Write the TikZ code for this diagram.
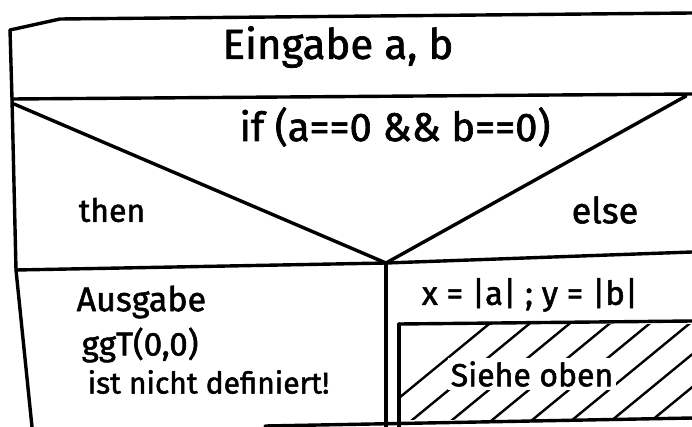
\documentclass[tikz,border=0pt]{standalone}
\usepackage{fontspec}
\setmainfont{Fira Sans}[FakeBold=1.6]
\begin{document}
\begin{tikzpicture}[x=1pt,y=-1pt,line width=3.4pt,line cap=round,line join=round,
  txt/.style={inner sep=0pt,font=\fontsize{#1}{#1}\selectfont},
  hatch/.style={line width=2.4pt}]
\useasboundingbox (0,0) rectangle (692,427);
% corner coordinates
\coordinate (tl) at (10,30);
\coordinate (tm) at (60,19);
\coordinate (tr) at (692,13);
\coordinate (l1) at (12,99);
\coordinate (r1) at (692,94);
\coordinate (l2) at (16,270);
\coordinate (r2) at (692,252);
\coordinate (v) at (386,263);
\coordinate (vb) at (386,427);
\coordinate (bl) at (32,427);
\coordinate (hl) at (399,324);
\coordinate (hr) at (692,321);
\coordinate (hb) at (399,427);
\coordinate (bbl) at (265,426);
\coordinate (bbr) at (692,418);
% outer frame
\draw (tl) -- (tm) -- (tr);
\draw (tl) -- (l1) -- (l2) -- (bl);
\draw (l1) -- (r1);
\draw (l2) -- (v) -- (r2);
\draw (14,104) -- (v) -- (686,96);
\draw (v) -- (vb);
\draw (hl) -- (hr);
\draw (hl) -- (hb);
\draw (bbl) -- (bbr);
% hatching
\begin{scope}
  \clip (399,324) rectangle (692,419);
  \foreach \x in {360,400,...,720}
    \draw[hatch] (\x,430) -- ++(140,-115);
\end{scope}
% texts
\node[txt=42] (in) at (338,47) {Eingabe a, b};
\node[txt=40] (if) at (395,127) {if (a==0 \&\& b==0)};
\node[txt=32] (then) at (112,210) {then};
\node[txt=36] (else) at (605,210) {else};
\node[txt=34,anchor=west] (aus) at (75,302) {Ausgabe};
\node[txt=33,anchor=west] (ggt) at (80,345) {ggT(0,0)};
\node[txt=30,anchor=west] (ist) at (86,382) {ist nicht definiert!};
\node[txt=33] (xy) at (530,295) {x = |a| ; y = |b|};
\node[txt=32,fill=white,inner sep=3pt] (so) at (532,374) {Siehe oben};
\end{tikzpicture}
\end{document}
